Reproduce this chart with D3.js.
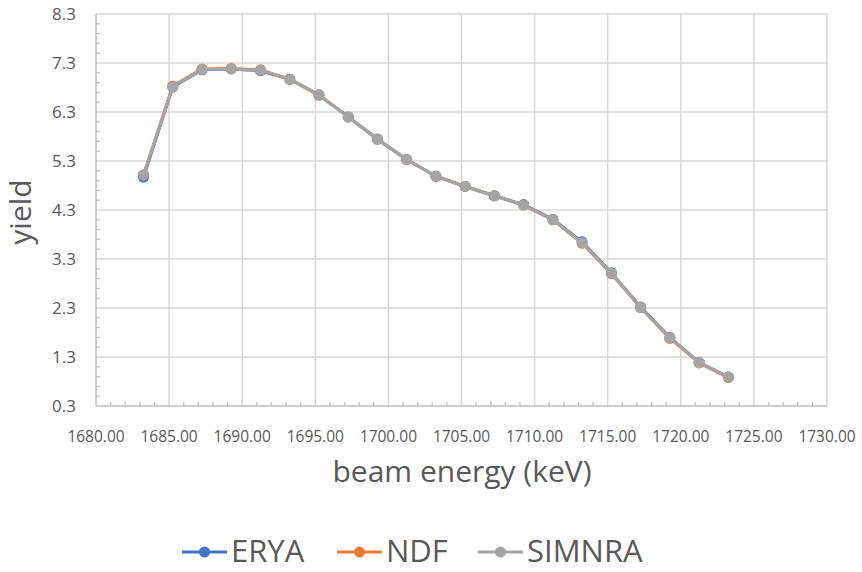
<!DOCTYPE html>
<html>
<head>
<meta charset="utf-8">
<script src="https://cdn.jsdelivr.net/npm/d3@7"></script>
<style>
  html, body { margin: 0; padding: 0; background: #fff; }
  svg { display: block; font-family: "Open Sans", sans-serif; }
</style>
</head>
<body>
<svg id="chart" width="862" height="572"></svg>
<script>
const energies = [1683.25, 1685.25, 1687.25, 1689.25, 1691.25, 1693.25, 1695.25, 1697.25, 1699.25, 1701.25,
                  1703.25, 1705.25, 1707.25, 1709.25, 1711.25, 1713.25, 1715.25, 1717.25, 1719.25, 1721.25, 1723.25];
const erya   = [4.97, 6.81, 7.16, 7.18, 7.14, 6.97, 6.65, 6.20, 5.75, 5.33, 4.99, 4.78, 4.59, 4.41, 4.11, 3.65, 3.02, 2.32, 1.70, 1.19, 0.89];
const ndf    = [5.02, 6.83, 7.18, 7.19, 7.16, 6.97, 6.64, 6.20, 5.74, 5.33, 4.99, 4.78, 4.59, 4.40, 4.10, 3.62, 3.00, 2.31, 1.68, 1.18, 0.88];
const simnra = [5.01, 6.82, 7.17, 7.18, 7.15, 6.97, 6.65, 6.20, 5.74, 5.33, 4.99, 4.78, 4.59, 4.40, 4.10, 3.63, 3.01, 2.31, 1.69, 1.19, 0.89];
const seriesNames = ["ERYA", "NDF", "SIMNRA"];
const seriesColors = ["#4472C4", "#ED7D31", "#A5A5A5"];
const xTicks = [1680, 1685, 1690, 1695, 1700, 1705, 1710, 1715, 1720, 1725, 1730];
const yTicks = [0.3, 1.3, 2.3, 3.3, 4.3, 5.3, 6.3, 7.3, 8.3];
const xTitle = "beam energy (keV)";
const yTitle = "yield";

(function () {
const svg = d3.select("#chart");
const pLeft = 96, pRight = 827, pTop = 14, pBottom = 406;
const x = d3.scaleLinear().domain([1680, 1730]).range([pLeft, pRight]);
const y = d3.scaleLinear().domain([0.3, 8.3]).range([pBottom, pTop]);
const textCol = "#595959";

// gridlines
const grid = svg.append("g");
grid.selectAll("line.v").data(xTicks.slice(1)).enter().append("line")
  .attr("x1", d => x(d)).attr("x2", d => x(d)).attr("y1", pTop).attr("y2", pBottom)
  .attr("stroke", "#d9d9d9").attr("stroke-width", 1.5);
grid.selectAll("line.h").data(yTicks.slice(1)).enter().append("line")
  .attr("x1", pLeft).attr("x2", pRight).attr("y1", d => y(d)).attr("y2", d => y(d))
  .attr("stroke", "#d9d9d9").attr("stroke-width", 1.5);

// minor ticks
const xMinor = d3.range(1681, 1730, 1).filter(v => v % 5 !== 0);
const yMinor = [];
yTicks.slice(0, -1).forEach(t => { for (let j = 1; j < 5; j++) yMinor.push(t + j * 0.2); });
svg.append("g").selectAll("line").data(xMinor).enter().append("line")
  .attr("x1", d => x(d)).attr("x2", d => x(d)).attr("y1", pBottom).attr("y2", pBottom - 4)
  .attr("stroke", "#bfbfbf").attr("stroke-width", 1.3);
svg.append("g").selectAll("line").data(yMinor).enter().append("line")
  .attr("x1", pLeft).attr("x2", pLeft + 4).attr("y1", d => y(d)).attr("y2", d => y(d))
  .attr("stroke", "#bfbfbf").attr("stroke-width", 1.3);

// axes lines
svg.append("line").attr("x1", pLeft).attr("x2", pLeft).attr("y1", pTop).attr("y2", pBottom)
  .attr("stroke", "#bfbfbf").attr("stroke-width", 1.5);
svg.append("line").attr("x1", pLeft).attr("x2", pRight).attr("y1", pBottom).attr("y2", pBottom)
  .attr("stroke", "#bfbfbf").attr("stroke-width", 1.5);

// tick labels
svg.append("g").selectAll("text").data(xTicks).enter().append("text")
  .attr("x", d => x(d)).attr("y", 442).attr("text-anchor", "middle")
  .attr("font-size", 15.5).attr("fill", textCol).text(d => d.toFixed(2));
svg.append("g").selectAll("text").data(yTicks).enter().append("text")
  .attr("x", 76).attr("y", d => y(d)).attr("dy", "0.36em").attr("text-anchor", "end")
  .attr("font-size", 17).attr("fill", textCol).text(d => d.toFixed(1));

// titles
svg.append("text").attr("x", 462).attr("y", 482).attr("text-anchor", "middle")
  .attr("font-size", 30).attr("fill", textCol).text(xTitle);
svg.append("text").attr("transform", "translate(31,212) rotate(-90)").attr("text-anchor", "middle")
  .attr("font-size", 30).attr("fill", textCol).text(yTitle);

// series
const allSeries = [erya, ndf, simnra];
const line = d3.line().x((d, i) => x(energies[i])).y(d => y(d));
allSeries.forEach((vals, k) => {
  const g = svg.append("g");
  g.append("path").datum(vals).attr("d", line).attr("fill", "none")
    .attr("stroke", seriesColors[k]).attr("stroke-width", 3).attr("stroke-linejoin", "round");
  g.selectAll("circle").data(vals).enter().append("circle")
    .attr("cx", (d, i) => x(energies[i])).attr("cy", d => y(d)).attr("r", 5.5)
    .attr("fill", seriesColors[k]);
});

// legend
const legendX = [182, 337, 478];
const leg = svg.append("g");
seriesNames.forEach((name, k) => {
  const lx = legendX[k];
  leg.append("line").attr("x1", lx).attr("x2", lx + 45).attr("y1", 552).attr("y2", 552)
    .attr("stroke", seriesColors[k]).attr("stroke-width", 3);
  leg.append("circle").attr("cx", lx + 22.5).attr("cy", 552).attr("r", 5.5).attr("fill", seriesColors[k]);
  leg.append("text").attr("x", lx + 49).attr("y", 562).attr("font-size", 31)
    .attr("fill", textCol).text(name);
});
})();
</script>
</body>
</html>
